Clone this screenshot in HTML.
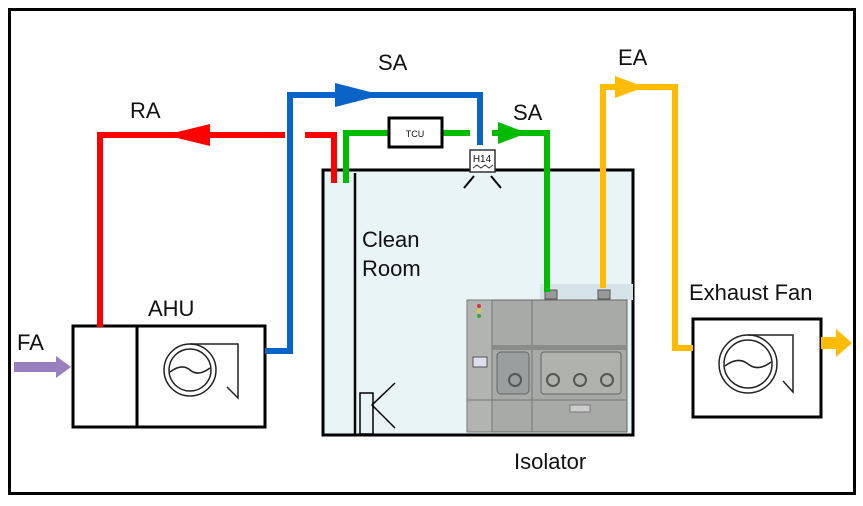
<!DOCTYPE html>
<html><head><style>body{margin:0;background:#fff}svg{display:block}text{font-family:"Liberation Sans",sans-serif;fill:#111}</style></head><body>
<svg width="863" height="506" viewBox="0 0 863 506">
<rect x="9.5" y="9.5" width="845" height="484" fill="#fff" stroke="#000" stroke-width="3"/>
<rect x="323" y="170" width="310" height="265" fill="#e9f4f6" stroke="#000" stroke-width="3"/>
<line x1="355" y1="173" x2="355" y2="435" stroke="#000" stroke-width="2.5"/>
<rect x="360" y="393" width="13" height="41" fill="none" stroke="#000" stroke-width="1.5"/>
<path d="M395 383 L372 405 L395 428" fill="none" stroke="#000" stroke-width="1.5"/>
<rect x="540" y="284" width="93" height="16" fill="#d6e3e8"/>
<rect x="545" y="290" width="12" height="9" fill="#999" stroke="#555"/>
<rect x="598" y="290" width="12" height="9" fill="#999" stroke="#555"/>
<rect x="467" y="300" width="160" height="132" fill="#a8aaa8" stroke="#666"/>
<rect x="467" y="300" width="25" height="132" fill="#b2b4b2" stroke="#777"/>
<line x1="532" y1="300" x2="532" y2="432" stroke="#777"/>
<rect x="492" y="345" width="135" height="5" fill="#8a8c8a"/>
<rect x="497" y="352" width="32" height="42" rx="4" fill="#9a9e9e" stroke="#666"/>
<rect x="541" y="352" width="80" height="42" rx="3" fill="#b0b2ae" stroke="#666"/>
<circle cx="515" cy="380" r="6" fill="none" stroke="#555" stroke-width="2"/>
<circle cx="553" cy="380" r="6" fill="none" stroke="#555" stroke-width="2"/>
<circle cx="580" cy="380" r="6" fill="none" stroke="#555" stroke-width="2"/>
<circle cx="607" cy="380" r="6" fill="none" stroke="#555" stroke-width="2"/>
<rect x="473" y="357" width="14" height="10" fill="#dde" stroke="#555"/>
<line x1="467" y1="400" x2="627" y2="400" stroke="#777"/>
<rect x="570" y="405" width="20" height="7" fill="#ccc" stroke="#777"/>
<circle cx="479" cy="306" r="2" fill="#d33"/><circle cx="479" cy="311" r="2" fill="#dc3"/><circle cx="479" cy="316" r="2" fill="#3a3"/>
<rect x="73" y="326" width="192" height="101" fill="#fff" stroke="#000" stroke-width="3"/>
<line x1="137" y1="326" x2="137" y2="427" stroke="#000" stroke-width="3"/>
<g fill="none" stroke="#222" stroke-width="1.5"><circle cx="190" cy="370" r="26"/><circle cx="190" cy="370" r="21"/><path d="M170 372 Q182 363 190 370 Q198 377 210 368"/><path d="M190 344 L238 344 L238 398 L227 387"/></g>
<rect x="693" y="319" width="128" height="98" fill="#fff" stroke="#000" stroke-width="3"/>
<g fill="none" stroke="#222" stroke-width="1.5"><circle cx="748" cy="364" r="29"/><circle cx="748" cy="364" r="24"/><path d="M725 366 Q738 356 748 364 Q758 372 771 362"/><path d="M748 335 L793 335 L793 392 L783 381"/></g>
<path d="M14 362 H56 V356 L71 367 L56 378 V372 H14Z" fill="#9a7fc0"/>
<path d="M100 327 V135 H285" fill="none" stroke="#f00" stroke-width="6"/>
<path d="M305 135 H334 V183" fill="none" stroke="#f00" stroke-width="6"/>
<path d="M165 135 L210 124 L210 146Z" fill="#f00"/>
<path d="M265 351 H290 V95 H480 V145" fill="none" stroke="#0a64c8" stroke-width="6"/>
<path d="M382 95 L335 83 L335 107Z" fill="#0a64c8"/>
<path d="M346 183 V133 H390 M442 133 H470" fill="none" stroke="#0b0" stroke-width="6"/>
<path d="M492 133 H547 V292" fill="none" stroke="#0b0" stroke-width="6"/>
<path d="M527 133 L498 122 L498 144Z" fill="#0b0"/>
<rect x="389" y="118" width="53" height="29" fill="#fff" stroke="#000" stroke-width="3"/>
<text x="415" y="137" font-size="9" text-anchor="middle">TCU</text>
<rect x="470" y="150" width="25" height="22" fill="#fff" stroke="#333" stroke-width="1.5"/>
<text x="482" y="162" font-size="10" text-anchor="middle">H14</text>
<path d="M473 168 l4 -3 l4 3 l4 -3 l4 3 l4 -3" fill="none" stroke="#333"/>
<path d="M474 176 L464 188 M491 176 L501 188" stroke="#000" stroke-width="2"/>
<path d="M603 288 V87 H675 V348 H693" fill="none" stroke="#ffbb00" stroke-width="6"/>
<path d="M645 87 L615 76 L615 98Z" fill="#ffbb00"/>
<path d="M821 337 H836 V329 L852 343 L836 357 V349 H821Z" fill="#ffbb00"/>
<g font-size="22">
<text x="130" y="118">RA</text>
<text x="378" y="70">SA</text>
<text x="513" y="120">SA</text>
<text x="618" y="65">EA</text>
<text x="362" y="247">Clean</text>
<text x="362" y="276">Room</text>
<text x="148" y="316">AHU</text>
<text x="17" y="350">FA</text>
<text x="689" y="300">Exhaust Fan</text>
<text x="514" y="469">Isolator</text>
</g>
</svg>
</body></html>
